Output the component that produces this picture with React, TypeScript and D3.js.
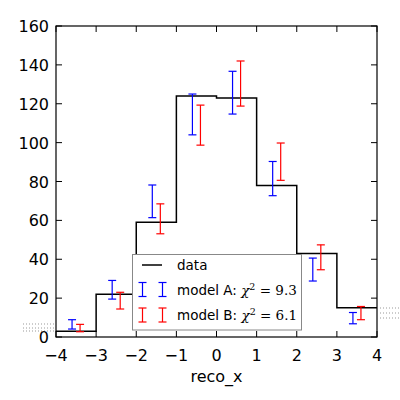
import * as d3 from "d3";
import { useEffect, useRef } from "react";

// bin edges and observed counts
const binEdges = [-4, -3, -2, -1, 0, 1, 2, 3, 4];
const dataCounts = [3, 22, 59, 124, 123, 78, 43, 15];

// model predictions (centre, error) per bin
const modelA = [6.5, 24.3, 69.8, 114.5, 125.7, 81.5, 34.7, 9.7];
const modelAErr = [2.4, 4.8, 8.4, 10.5, 11, 8.8, 5.9, 2.9];
const modelB = [4.6, 18.7, 60.8, 109, 130.4, 90.2, 41, 12.3];
const modelBErr = [1.9, 4.3, 7.7, 10.3, 11.6, 9.6, 6.4, 3.4];

const xTicks = [-4, -3, -2, -1, 0, 1, 2, 3, 4];
const yTicks = [0, 20, 40, 60, 80, 100, 120, 140, 160];

const W = 400;
const H = 400;

export default function App() {
    let ref = useRef<SVGSVGElement | null>(null);

    useEffect(() => {
        const margin = { top: 26, right: 23, bottom: 63, left: 56 };
        const svg = d3.select(ref.current);
        svg.selectAll("*").remove();

        const XScale = d3.scaleLinear([-4, 4], [margin.left, W - margin.right]);
        const YScale = d3.scaleLinear([0, 160], [H - margin.bottom, margin.top]);
        const font = "'DejaVu Sans', sans-serif";

        svg.append("rect")
            .attr("width", W)
            .attr("height", H)
            .attr("fill", "white");

        // stray dotted marks outside the axes
        const dots = svg.append("g").attr("stroke", "#999").attr("stroke-width", 1)
            .attr("stroke-dasharray", "1,2");
        [324, 328, 331].forEach((y) =>
            dots.append("line").attr("x1", 23).attr("x2", 54).attr("y1", y).attr("y2", y)
        );
        [308, 313, 318].forEach((y) =>
            dots.append("line").attr("x1", 380).attr("x2", 400).attr("y1", y).attr("y2", y)
        );

        // step histogram
        let d = `M${XScale(binEdges[0])},${YScale(dataCounts[0])}`;
        dataCounts.forEach((c, i) => {
            d += `V${YScale(c)}H${XScale(binEdges[i + 1])}`;
        });
        svg.append("path")
            .attr("d", d)
            .attr("fill", "none")
            .attr("stroke", "black")
            .attr("stroke-width", 1.5);

        const drawErr = (
            vals: number[],
            errs: number[],
            offset: number,
            color: string
        ) => {
            const g = svg.append("g").attr("stroke", color).attr("stroke-width", 1.2);
            vals.forEach((v, i) => {
                const cx = XScale((binEdges[i] + binEdges[i + 1]) / 2 + offset);
                const y0 = YScale(v - errs[i]);
                const y1 = YScale(v + errs[i]);
                g.append("line").attr("x1", cx).attr("x2", cx).attr("y1", y0).attr("y2", y1);
                g.append("line").attr("x1", cx - 4).attr("x2", cx + 4).attr("y1", y0).attr("y2", y0);
                g.append("line").attr("x1", cx - 4).attr("x2", cx + 4).attr("y1", y1).attr("y2", y1);
            });
        };
        drawErr(modelA, modelAErr, -0.1, "blue");
        drawErr(modelB, modelBErr, 0.1, "red");

        // axes frame
        svg.append("rect")
            .attr("x", XScale(-4))
            .attr("y", YScale(160))
            .attr("width", XScale(4) - XScale(-4))
            .attr("height", YScale(0) - YScale(160))
            .attr("fill", "none")
            .attr("stroke", "black")
            .attr("stroke-width", 1.2);

        const ticks = svg.append("g").attr("stroke", "black").attr("stroke-width", 1);
        xTicks.forEach((t) => {
            const x = XScale(t);
            ticks.append("line").attr("x1", x).attr("x2", x).attr("y1", YScale(0)).attr("y2", YScale(0) - 6);
            ticks.append("line").attr("x1", x).attr("x2", x).attr("y1", YScale(160)).attr("y2", YScale(160) + 6);
        });
        yTicks.forEach((t) => {
            const y = YScale(t);
            ticks.append("line").attr("x1", XScale(-4)).attr("x2", XScale(-4) + 6).attr("y1", y).attr("y2", y);
            ticks.append("line").attr("x1", XScale(4)).attr("x2", XScale(4) - 6).attr("y1", y).attr("y2", y);
        });

        svg.append("g")
            .selectAll("text")
            .data(xTicks)
            .join("text")
            .attr("x", (t) => XScale(t))
            .attr("y", YScale(0) + 24)
            .attr("text-anchor", "middle")
            .attr("font-family", font)
            .attr("font-size", 16)
            .text((t) => (t < 0 ? "\u2212" + Math.abs(t) : String(t)));

        svg.append("g")
            .selectAll("text")
            .data(yTicks)
            .join("text")
            .attr("x", XScale(-4) - 7)
            .attr("y", (t) => YScale(t) + 6)
            .attr("text-anchor", "end")
            .attr("font-family", font)
            .attr("font-size", 16)
            .text((t) => String(t));

        svg.append("text")
            .attr("x", (XScale(-4) + XScale(4)) / 2)
            .attr("y", 382)
            .attr("text-anchor", "middle")
            .attr("font-family", font)
            .attr("font-size", 16)
            .text("reco_x");

        // legend
        const lg = svg.append("g");
        lg.append("rect")
            .attr("x", 132.5)
            .attr("y", 254.5)
            .attr("width", 169)
            .attr("height", 75.5)
            .attr("fill", "white")
            .attr("stroke", "#888")
            .attr("stroke-width", 1);
        lg.append("line")
            .attr("x1", 142).attr("x2", 162).attr("y1", 265).attr("y2", 265)
            .attr("stroke", "black").attr("stroke-width", 1.5);
        const entries = [
            { y: 289.5, color: "blue", label: "model A: ", chi: "9.3" },
            { y: 315, color: "red", label: "model B: ", chi: "6.1" },
        ];
        entries.forEach((e) => {
            const g = lg.append("g").attr("stroke", e.color).attr("stroke-width", 1.2);
            [142.5, 162.5].forEach((cx) => {
                g.append("line").attr("x1", cx).attr("x2", cx).attr("y1", e.y - 7).attr("y2", e.y + 7);
                g.append("line").attr("x1", cx - 4).attr("x2", cx + 4).attr("y1", e.y - 7).attr("y2", e.y - 7);
                g.append("line").attr("x1", cx - 4).attr("x2", cx + 4).attr("y1", e.y + 7).attr("y2", e.y + 7);
            });
        });
        lg.append("text")
            .attr("x", 177)
            .attr("y", 270)
            .attr("font-family", font)
            .attr("font-size", 13.5)
            .text("data");
        entries.forEach((e) => {
            const t = lg.append("text")
                .attr("x", 177)
                .attr("y", e.y + 5)
                .attr("font-family", font)
                .attr("font-size", 13.5);
            t.append("tspan").text(e.label);
            t.append("tspan")
                .attr("font-family", "'DejaVu Serif', serif")
                .attr("font-style", "italic")
                .text("\u03c7");
            t.append("tspan")
                .attr("font-family", "'DejaVu Serif', serif")
                .attr("font-size", 9.5)
                .attr("dy", -5)
                .text("2");
            t.append("tspan")
                .attr("font-family", "'DejaVu Serif', serif")
                .attr("dy", 5)
                .text(" = " + e.chi);
        });
    }, []);

    return (
        <svg
            ref={ref}
            width={W}
            height={H}
            style={{ position: "absolute", left: 0, top: 0 }}
        />
    );
}
